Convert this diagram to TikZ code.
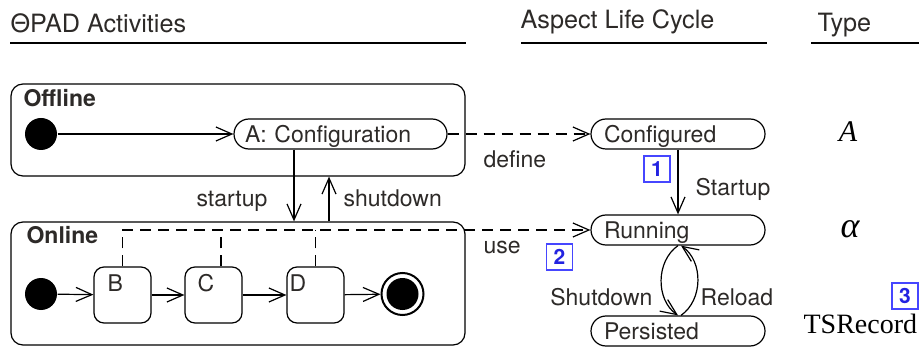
\documentclass[tikz,border=0pt]{standalone}
\usepackage{fontspec}
\setmainfont{TeX Gyre Heros}
\newfontfamily\tsfont{Liberation Serif}
\usetikzlibrary{arrows.meta}

\definecolor{txtgray}{RGB}{45,42,40}
\definecolor{numblue}{RGB}{35,35,225}
\definecolor{boxblue}{RGB}{70,70,255}

\newcommand\bodyfont{\fontsize{11.5}{13}\selectfont}
\newcommand\headfont{\fontsize{12.6}{15}\selectfont}

\tikzset{
  open/.style={-{Straight Barb[length=8pt,width=7pt]}},
  region/.style={draw, rounded corners=6pt, minimum width=227pt, inner sep=0pt},
  state/.style={draw, rounded corners=7.5pt, minimum height=15pt, inner xsep=5.5pt,
    inner ysep=0pt, text height=8.2pt, text depth=0pt, align=left, text=txtgray},
  life/.style={state, text width=74pt, inner xsep=6.5pt},
  actbox/.style={draw, rounded corners=5pt, minimum width=28.5pt, minimum height=28pt},
  initial/.style={circle, fill, minimum size=16pt, inner sep=0pt},
  ring/.style={circle, draw, line width=1pt, minimum size=21pt, inner sep=0pt},
  dot/.style={circle, fill, minimum size=16pt, inner sep=0pt},
  lbl/.style={text=txtgray, inner sep=0pt},
  head/.style={lbl, font=\headfont},
  title/.style={lbl, font=\bodyfont\bfseries},
  typename/.style={inner sep=0pt, font=\tsfont\fontsize{15}{17}\selectfont},
  numbox/.style={draw=boxblue, text=numblue, font=\fontsize{10.5}{12}\selectfont\bfseries,
    minimum width=13pt, minimum height=13pt, inner sep=0pt},
  msg/.style={dash pattern=on 5.5pt off 3.5pt},
}

\begin{document}
\begin{tikzpicture}[x=0.5pt, y=-0.5pt, line width=0.6pt, font=\bodyfont]
  \useasboundingbox (0,0) rectangle (920,347);

  % column headings
  \node[head, anchor=base west] (hpad) at (10,33) {ΘPAD Activities};
  \node[head, anchor=base west] (hlife) at (520,29) {Aspect Life Cycle};
  \node[head, anchor=base west] (htype) at (817,32) {Type};
  \draw (10,43) -- (466,43);
  \draw (521,43) -- (767,43);
  \draw (811,43) -- (919,43);

  % offline
  \node[region, minimum height=46pt] (offline) at (238,130) {};
  \node[title, anchor=base west] (offt) at (23,107) {Offline};
  \node[initial] (init1) at (41,134) {};
  \node[state, text width=95.5pt] (conf) at (340.5,134) {A: Configuration};
  \draw[open] (init1) -- (conf);

  % online
  \node[region, minimum height=61.5pt] (online) at (238,283.5) {};
  \node[title, anchor=base west] (ont) at (26,243) {Online};
  \node[initial] (init2) at (41,294) {};
  \node[actbox] (bact) at (122.5,295) {};
  \node[actbox] (cact) at (213.5,295) {};
  \node[actbox] (dact) at (315.5,295) {};
  \node[lbl, anchor=north west] (blbl) at (107,274) {B};
  \node[lbl, anchor=north west] (clbl) at (197,274) {C};
  \node[lbl, anchor=north west] (dlbl) at (289,274) {D};
  \node[ring] (fin) at (402.5,294) {};
  \node[dot] (findot) at (fin) {};
  \draw[open] (init2) -- (bact);
  \draw[open] (bact) -- (cact);
  \draw[open] (cact) -- (dact);
  \draw[open] (dact) -- (fin);

  % aspect life cycle
  \node[life] (cfgd) at (678,134) {Configured};
  \node[life] (run) at (678,230) {Running};
  \node[life] (pers) at (678,331) {Persisted};
  \draw[open] (cfgd) -- (run);
  \draw[open] (run.south) to[bend right=55] (pers.north);
  \draw[open] ([xshift=1.5pt]pers.north) to[bend right=55] ([xshift=1.5pt]run.south);
  \node[lbl, anchor=base west] (lstartup) at (695,196) {Startup};
  \node[lbl, anchor=base east] (lshutdown) at (653,305) {Shutdown};
  \node[lbl, anchor=base west] (lreload) at (700,305) {Reload};

  % startup / shutdown between the regions
  \coordinate (su) at (294,0);
  \coordinate (sd) at (329,0);
  \draw[open] (conf.south -| su) -- (online.north -| su);
  \draw[open] (online.north -| sd) -- (offline.south -| sd);
  \node[lbl, anchor=base east] (lstart) at (268,206) {startup};
  \node[lbl, anchor=base west] (lshut) at (343,206) {shutdown};

  % define and use
  \coordinate (use) at (0,230);
  \coordinate (cx) at (221,0);
  \draw[msg, open] (conf) -- (cfgd);
  \draw[msg, open] (bact.north) -- (bact.north |- use) -- (run.west);
  \draw[msg] (cact.north -| cx) -- (cx |- use);
  \draw[msg] (dact.north) -- (dact.north |- use);
  \node[lbl, anchor=base west] (ldefine) at (483,168) {define};
  \node[lbl, anchor=base west] (luse) at (483,253) {use};

  % types
  \node[typename, anchor=base] (ta) at (848,142) {\itshape A};
  \node[typename, anchor=base, font=\tsfont\fontsize{18}{20}\selectfont] (talpha) at (850,237) {\itshape α};
  \node[typename, anchor=base west, font=\tsfont\fontsize{14}{16}\selectfont] (tts) at (803,333) {TSRecord};

  % markers
  \node[numbox] (n1) at (657,169) {1};
  \node[numbox] (n2) at (559.5,257) {2};
  \node[numbox] (n3) at (905,296) {3};
\end{tikzpicture}
\end{document}
